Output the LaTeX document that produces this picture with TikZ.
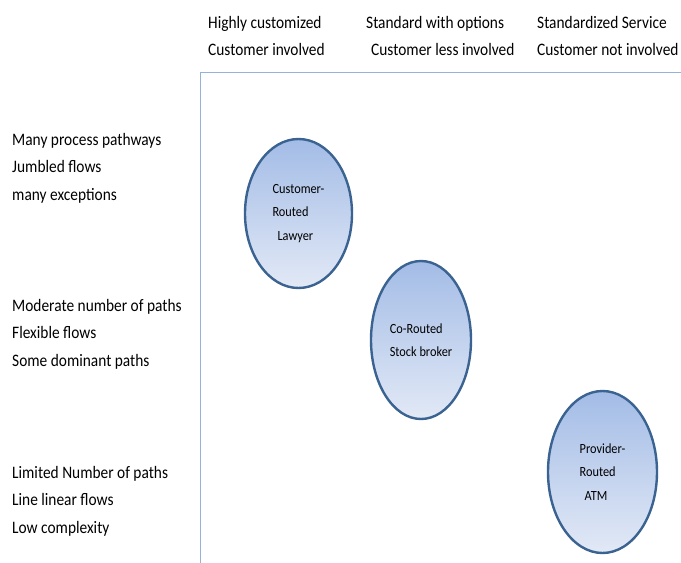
\documentclass[tikz,border=0pt]{standalone}
\usepackage{fontspec}
\setmainfont{Carlito}
\newfontfamily\narrowfont[FakeStretch=0.88]{Carlito}
\usetikzlibrary{shapes.geometric,positioning}
\definecolor{axisblue}{HTML}{95B3D7}
\definecolor{rimblue}{HTML}{3B6391}
\definecolor{topblue}{HTML}{A3BCE6}
\definecolor{botblue}{HTML}{E2E9F6}
\tikzset{main base/.style={inner sep=0pt,align=left}, }
\tikzset{main label/.style={main base,anchor=west,
    font=\narrowfont\fontsize{17.5}{27.5}\selectfont}, }
\tikzset{main oval/.style={ellipse,draw=rimblue,line width=2.4pt,
    top color=topblue,bottom color=botblue,main base,
    font=\narrowfont\fontsize{14}{23.5}\selectfont}, }
\tikzset{axis/.style={draw=axisblue,line width=1pt}}

\begin{document}
\begin{tikzpicture}[x=1pt,y=-1pt]
  \useasboundingbox (0,0) rectangle (681,563);
  % corner of the axes
  \coordinate (o) at (200,72);
  \coordinate (xe) at (681,72);
  \coordinate (ye) at (200,563);
  \path[axis] (xe) -- (o) -- (ye);
  % column headings
  \node[main label] (h1) at (208,36) {Highly customized\\Customer involved};
  \node[main label] (h2) at (366,36) {Standard with options\\\hspace{5pt}Customer less involved};
  \node[main label] (h3) at (537,36) {Standardized Service\\Customer not involved};
  % row headings
  \node[main label] (r1) at (12,168) {Many process pathways\\Jumbled flows\\many exceptions};
  \node[main label] (r2) at (12,334) {Moderate number  of paths\\Flexible flows\\Some dominant  paths};
  \node[main label] (r3) at (12,501) {Limited Number  of paths\\Line linear flows\\Low complexity};
  % the three routings
  \node[main oval,minimum width=107pt,minimum height=149pt] (1) at (298.5,213.5)
    {Customer-\\Routed\\\hspace{5pt}Lawyer};
  \node[main oval,minimum width=100pt,minimum height=158pt] (2) at (421,340)
    {Co-Routed\\Stock broker};
  \node[main oval,minimum width=109pt,minimum height=162pt] (3) at (602.5,472)
    {Provider-\\Routed\\\hspace{5pt}ATM};
\end{tikzpicture}
\end{document}
